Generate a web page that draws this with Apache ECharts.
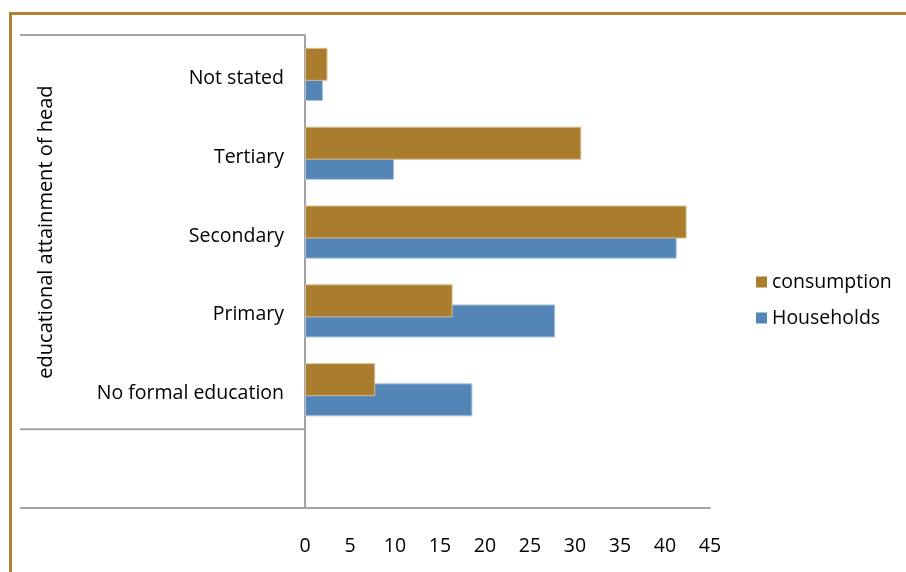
<!DOCTYPE html>
<html>
<head>
<meta charset="utf-8">
<script src="https://cdn.jsdelivr.net/npm/echarts@6/dist/echarts.min.js"></script>
<style>
html,body{margin:0;padding:0;background:#fff;}
#c{width:906px;height:572px;}
</style>
</head>
<body>
<div id="c"></div>
<script>
const categories = ['', 'No formal education', 'Primary', 'Secondary', 'Tertiary', 'Not stated'];
const consumption = [null, 7.8, 16.4, 42.4, 30.7, 2.5];
const households = [null, 18.6, 27.8, 41.3, 9.9, 2.0];
const axisMin = 0, axisMax = 45, axisStep = 5;
const axisTitle = 'educational attainment of head';
const seriesNames = ['consumption', 'Households'];

const FONT = 'Open Sans';
const GRAY = '#A3A3A3';
const chart = echarts.init(document.getElementById('c'), null, {renderer: 'canvas'});

const option = {
  animation: false,
  backgroundColor: '#fff',
  grid: {left: 305, right: 196, top: 35, bottom: 64, containLabel: false},
  legend: {
    orient: 'vertical', left: 756, top: 272, padding: 0,
    data: seriesNames,
    icon: 'rect', itemWidth: 11, itemHeight: 11, itemGap: 16,
    itemStyle: {borderWidth: 0},
    textStyle: {fontFamily: FONT, fontSize: 19.5, color: '#000'}
  },
  xAxis: {
    type: 'value', min: axisMin, max: axisMax, interval: axisStep,
    axisLine: {show: true, lineStyle: {color: GRAY, width: 2}},
    axisTick: {show: false},
    splitLine: {show: false},
    axisLabel: {fontFamily: FONT, fontSize: 19.5, color: '#000', margin: 28}
  },
  yAxis: {
    type: 'category', data: categories,
    axisLine: {show: true, lineStyle: {color: GRAY, width: 2}},
    axisTick: {show: false},
    splitLine: {show: false},
    axisLabel: {
      margin: 21,
      formatter: function (v) { return v ? '{t|' + v + '}' : ''; },
      rich: {t: {fontFamily: FONT, fontSize: 19.5, color: '#000', padding: [8, 0, 0, 0]}}
    }
  },
  series: [
    {name: seriesNames[0], type: 'bar', data: consumption, barWidth: 33, barGap: '-39%', z: 3,
     itemStyle: {color: '#A97C2E', borderColor: '#D4BD96', borderWidth: 1}},
    {name: seriesNames[1], type: 'bar', data: households, barWidth: 33, barGap: '-39%', z: 2,
     itemStyle: {color: '#5386B6', borderColor: '#A9C3DD', borderWidth: 1}}
  ]
};
chart.setOption(option);

// structural lines of the category box, positioned from the axes
const c0 = chart.convertToPixel({yAxisIndex: 0}, 0);
const c1 = chart.convertToPixel({yAxisIndex: 0}, 1);
const c5 = chart.convertToPixel({yAxisIndex: 0}, categories.length - 1);
const bw = Math.abs(c0 - c1);
const yTop = c5 - bw / 2;
const yMid = c0 - bw / 2;
const yBot = c0 + bw / 2;
const x0 = chart.convertToPixel({xAxisIndex: 0}, axisMin);
const boxLeft = 20;

chart.setOption({
  graphic: [
    {type: 'line', shape: {x1: 9, y1: 13.5, x2: 906, y2: 13.5}, style: {stroke: '#AF8231', lineWidth: 3}},
    {type: 'line', shape: {x1: 10.5, y1: 12, x2: 10.5, y2: 572}, style: {stroke: '#AF8231', lineWidth: 3}},
    {type: 'line', shape: {x1: boxLeft, y1: yTop, x2: x0, y2: yTop}, style: {stroke: GRAY, lineWidth: 2}},
    {type: 'line', shape: {x1: boxLeft, y1: yMid, x2: x0, y2: yMid}, style: {stroke: GRAY, lineWidth: 2}},
    {type: 'line', shape: {x1: boxLeft, y1: yBot, x2: x0, y2: yBot}, style: {stroke: GRAY, lineWidth: 2}},
    {type: 'text', x: 46, y: (yTop + yMid) / 2, rotation: Math.PI / 2,
     style: {text: axisTitle, fontFamily: FONT, fontSize: 20, fill: '#000', align: 'center', verticalAlign: 'middle'}}
  ]
});
</script>
</body>
</html>
